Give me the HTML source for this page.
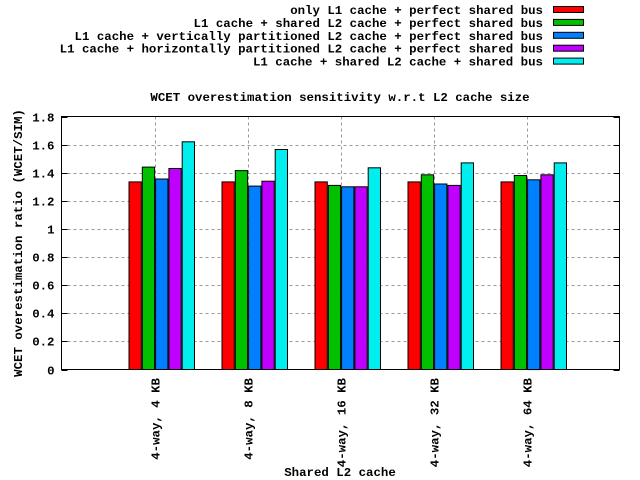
<!DOCTYPE html>
<html><head><meta charset="utf-8"><style>
html,body{margin:0;padding:0;background:#fff;}
svg{display:block;font-family:"Liberation Mono",monospace;font-weight:bold;font-size:12.4px;}
</style></head><body>
<svg id="chart" width="640" height="480" viewBox="0 0 640 480">
<g id="legend"></g>
<text x="340" y="101" text-anchor="middle">WCET overestimation sensitivity w.r.t L2 cache size</text>
<g id="grid"></g>
<g id="bars"></g>
<rect x="61.5" y="116.5" width="558" height="253" fill="none" stroke="#000" stroke-width="1"/>
<g id="yticks"></g>
<g id="xticks"></g>
<text transform="translate(22,243) rotate(-90)" text-anchor="middle">WCET overestimation ratio (WCET/SIM)</text>
<text x="340" y="476" text-anchor="middle">Shared L2 cache</text>
</svg>
<script>
const categories = ["4-way, 4 KB","4-way, 8 KB","4-way, 16 KB","4-way, 32 KB","4-way, 64 KB"];
const seriesNames = ["only L1 cache + perfect shared bus","L1 cache + shared L2 cache + perfect shared bus","L1 cache + vertically partitioned L2 cache + perfect shared bus","L1 cache + horizontally partitioned L2 cache + perfect shared bus","L1 cache + shared L2 cache + shared bus"];
const seriesColors = ["#ff0000","#00c000","#0080ff","#c000ff","#00eeee"];
const s0 = [1.335,1.335,1.335,1.335,1.335];
const s1 = [1.44,1.415,1.31,1.385,1.38];
const s2 = [1.355,1.305,1.30,1.32,1.35];
const s3 = [1.43,1.34,1.30,1.31,1.385];
const s4 = [1.62,1.565,1.435,1.47,1.47];
const yTicks = [0,0.2,0.4,0.6,0.8,1,1.2,1.4,1.6,1.8];
const yTickLabels = ["0","0.2","0.4","0.6","0.8","1","1.2","1.4","1.6","1.8"];
const series = [s0,s1,s2,s3,s4];
const NS="http://www.w3.org/2000/svg";
const L=61.5,R=619.5,T=116.5,B=369.5;
const yMax=1.8;
function yS(v){return B-(v/yMax)*(B-T);}
function xS(i){return L+(i+1)*(R-L)/(categories.length+1);}
function mk(tag,attrs,parent){const e=document.createElementNS(NS,tag);for(const k in attrs)e.setAttribute(k,attrs[k]);parent.appendChild(e);return e;}
const grid=document.getElementById('grid'),bars=document.getElementById('bars'),yt=document.getElementById('yticks'),xt=document.getElementById('xticks'),lg=document.getElementById('legend');
yTicks.forEach((v,i)=>{
  const y=Math.round(yS(v))+0.5;
  if(v>0&&v<yMax){const g=mk('line',{x1:L,x2:R,y1:y,y2:y,stroke:'#999','stroke-dasharray':'3,3'},grid);
  
  }
  const t1=mk('line',{x1:L,x2:L+6,y1:y,y2:y,stroke:'#000'},yt);
  
  
  const t2=mk('line',{x1:R-6,x2:R,y1:y,y2:y,stroke:'#000'},yt);
  
  
  const tx=mk('text',{x:L-7,y:y+4,'text-anchor':'end'},yt);tx.textContent=yTickLabels[i];
  
  
});
categories.forEach((c,i)=>{
  const x=Math.round(xS(i))+0.5;
  const g=mk('line',{x1:x,x2:x,y1:T,y2:B,stroke:'#999','stroke-dasharray':'3,3'},grid);
  
  
  const t=mk('text',{transform:'translate('+(x+4)+',378) rotate(-90)','text-anchor':'end'},xt);t.textContent=c;
  
  
  series.forEach((s,j)=>{
    const bx=xS(i)-25.5+j*13.3;
    const r=mk('rect',{x:bx.toFixed(1),y:yS(s[i]).toFixed(1),width:12.3,height:(B-yS(s[i])).toFixed(1),fill:seriesColors[j],stroke:'#000','stroke-width':1},bars);
    
    
  });
});
seriesNames.forEach((n,j)=>{
  const y=10+j*12.9;
  const t=mk('text',{x:543,y:y+4,'text-anchor':'end'},lg);t.textContent=n;
  
  
  const r=mk('rect',{x:553.5,y:y-3.5,width:30,height:6,fill:seriesColors[j],stroke:'#000'},lg);
  
  
});
</script>
</body></html>
